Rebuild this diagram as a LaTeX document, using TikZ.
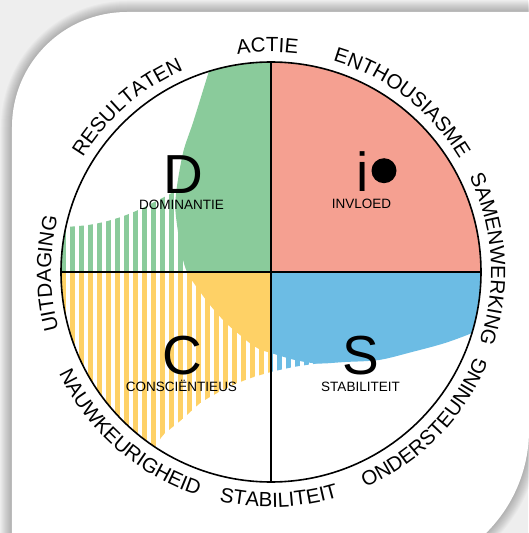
\documentclass[tikz,border=0pt]{standalone}
\usepackage{fontspec}
\setmainfont{Liberation Sans}
\usetikzlibrary{decorations.text}
\definecolor{dgreen}{RGB}{138,203,155}
\definecolor{isalmon}{RGB}{245,160,145}
\definecolor{sblue}{RGB}{108,188,228}
\definecolor{cyellow}{RGB}{254,209,102}
\definecolor{bggray}{RGB}{238,238,238}
\newcommand\outerfont{\fontsize{20.5}{20.5}\selectfont}
\newcommand\bigletter{\fontsize{55}{55}\selectfont}
\newcommand\subfont{\fontsize{13.5}{13.5}\selectfont}
\newcommand\toplabel[3]{%
  \pgfmathsetmacro\lblsa{#1+75}\pgfmathsetmacro\lblea{#1-75}%
  \path[decorate, decoration={text along path, text={|\outerfont|#3}, text align=center}]
    (\lblsa:#2) arc[start angle=\lblsa, end angle=\lblea, radius=#2];}
\newcommand\botlabel[3]{%
  \pgfmathsetmacro\lblsa{#1-75}\pgfmathsetmacro\lblea{#1+75}%
  \path[decorate, decoration={text along path, text={|\outerfont|#3}, text align=center}]
    (\lblsa:#2) arc[start angle=\lblsa, end angle=\lblea, radius=#2];}
% card shape grown by offset #1, filled with style #2
\newcommand\cardfill[2]{%
  \pgfmathsetmacro\cL{12-#1}%
  \pgfmathsetmacro\cKa{0.5523*(115+#1)}%
  \pgfmathsetmacro\cYa{127-\cKa}%
  \pgfmathsetmacro\cR{529+#1}%
  \pgfmathsetmacro\cKb{0.5523*(145+#1)}%
  \pgfmathsetmacro\cYb{430+\cKb}%
  \pgfmathsetmacro\cXb{384+\cKb}%
  \pgfmathsetmacro\cB{575+#1}%
  \fill[#2] (\cL,600) -- (\cL,127) .. controls (\cL,\cYa) and (\cYa,\cL) .. (127,\cL)
    -- (\cR,\cL) -- (\cR,430) .. controls (\cR,\cYb) and (\cXb,\cB) .. (384,\cB) -- (\cL,600) -- cycle;}
\tikzset{
  apath/.style={insert path={plot[smooth] coordinates {(225,20) (217,45) (208.3,73.3) (193.3,121.7) (183.3,151.7) (176.7,188.3) (175.5,211.7) (181,250) (187,272) (200,291.7) (210,305) (220,316.7) (230,326.7) (240,335) (250,343.3) (260,349.5) (271,353) (295,360) (318,363.5) (345,362) (379,360) (412,352) (445,343) (475,331.7) (500,318)} -- (520,318) -- (520,20) -- cycle}},
  bpath/.style={insert path={plot[smooth] coordinates {(178,189) (168.3,195) (155,201.7) (138.3,210) (121.7,216.7) (105,221.7) (88.3,225) (70,226.7) (55,227.5)} -- (30,228) -- (30,480) -- (140,480) -- plot[smooth] coordinates {(145,458) (156,446) (163.3,435) (183.3,418.3) (200,403.3) (216.7,393.3) (233.3,385) (250,378.3) (271,372) (295.3,366.7) (318.7,363.3) (335,361)} -- (335,340) -- (250,240) -- cycle}},
  shadowfill/.style={black, opacity=0.022},
  divline/.style={line width=1.3pt, black},
  rimline/.style={line width=1.6pt, black},
  bigtxt/.style={anchor=base, font=\bigletter, inner sep=0pt},
  subtxt/.style={anchor=base, font=\subfont, inner sep=0pt},
}
\begin{document}
\begin{tikzpicture}[x=1pt,y=1pt]
\useasboundingbox (-271,-261) rectangle (257,272);
\begin{scope}[shift={(-271,272)}, yscale=-1]
  \fill[bggray] (0,0) rectangle (528,533);
  \foreach \d in {11,10,...,1} {\cardfill{\d}{shadowfill}}
  \cardfill{0}{white}
  \coordinate (O) at (271,272);
  \begin{scope}
    \clip (O) circle[radius=210];
    \fill[isalmon] (O) rectangle (500,40);
    % D quadrant
    \begin{scope}
      \clip (40,40) rectangle (O);
      \begin{scope}
        \path[clip, bpath];
        \foreach \k in {-2,...,32} \fill[dgreen] ({70+9*\k},40) rectangle ++(4.8,460);
      \end{scope}
      \fill[dgreen, apath];
    \end{scope}
    % C quadrant
    \begin{scope}
      \clip (40,500) rectangle (O);
      \begin{scope}
        \path[clip, bpath];
        \foreach \k in {-2,...,32} \fill[cyellow] ({70+9*\k},40) rectangle ++(4.8,460);
      \end{scope}
      \fill[cyellow, apath];
    \end{scope}
    % S quadrant
    \begin{scope}
      \clip (500,500) rectangle (O);
      \begin{scope}
        \path[clip, bpath];
        \foreach \k in {-2,...,32} \fill[sblue] ({70+9*\k},40) rectangle ++(4.8,460);
      \end{scope}
      \fill[sblue, apath];
    \end{scope}
  \end{scope}
  \coordinate (Ntop) at (271,62);
  \coordinate (Nbot) at (271,482);
  \coordinate (Wl) at (61,272);
  \coordinate (Er) at (481,272);
  \draw[divline] (Ntop) -- (Nbot);
  \draw[divline] (Wl) -- (Er);
  \draw[rimline] (O) circle[radius=210];
  \node[bigtxt] (Dl) at (183.3,193.5) {D};
  \node[subtxt] (Dsub) at (181.5,209.3) {DOMINANTIE};
  \node[bigtxt] (Il) at (362.5,191.7) {i};
  \fill (384,170.7) circle[radius=12.5];
  \node[subtxt] (Isub) at (361.5,208.3) {INVLOED};
  \node[bigtxt] (Cl) at (182.5,374) {C};
  \node[subtxt] (Csub) at (181.5,391.7) {CONSCIËNTIEUS};
  \node[bigtxt] (Sl) at (361,374) {S};
  \node[subtxt] (Ssub) at (360.5,391.7) {STABILITEIT};
\end{scope}
\toplabel{90.9}{220}{ACTIE}
\toplabel{131.1}{220}{RESULTATEN}
\toplabel{52.3}{220}{ENTHOUSIASME}
\toplabel{3.4}{220}{SAMENWERKING}
\toplabel{180.4}{220}{UITDAGING}
\botlabel{-44.4}{235}{ONDERSTEUNING}
\botlabel{-88}{235}{STABILITEIT}
\botlabel{-131.3}{235}{NAUWKEURIGHEID}
\end{tikzpicture}
\end{document}
